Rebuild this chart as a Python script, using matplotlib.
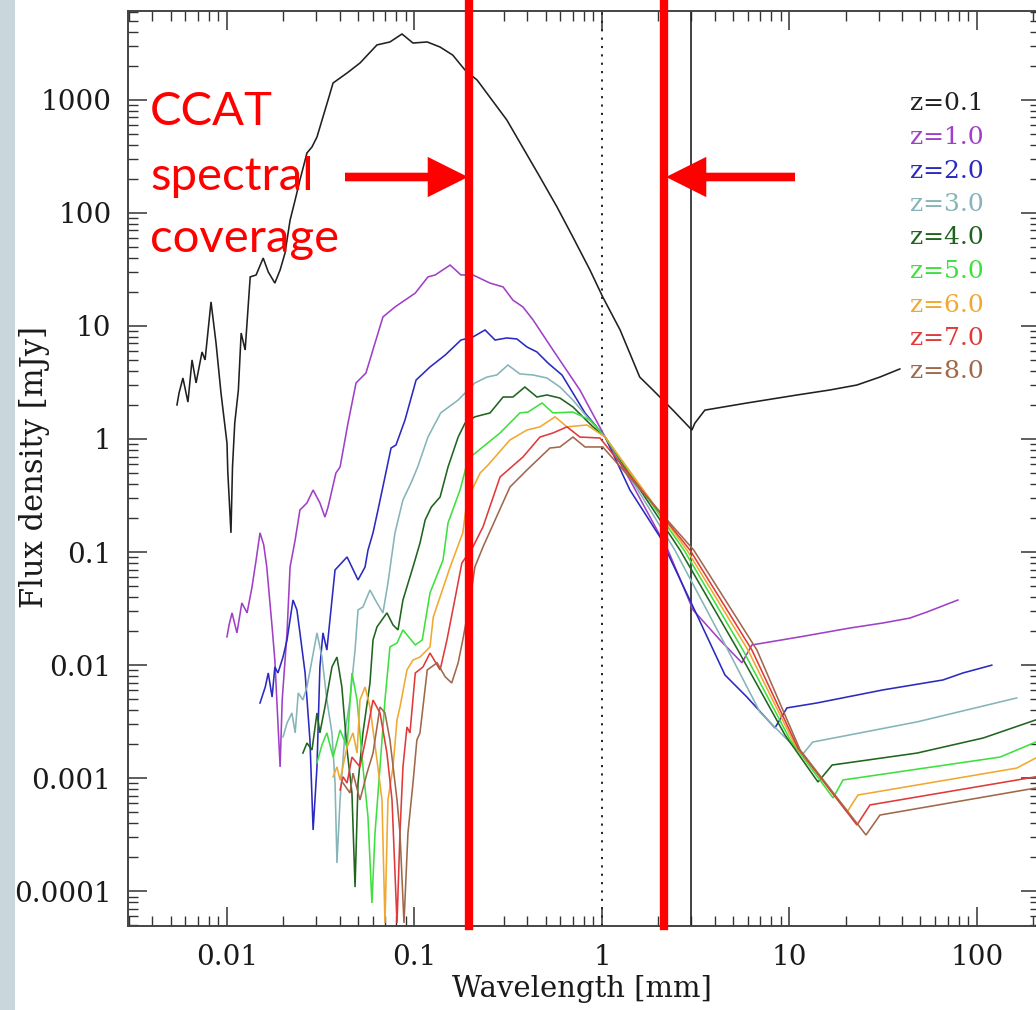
import matplotlib
matplotlib.use("Agg")
import matplotlib.pyplot as plt
from matplotlib.ticker import LogLocator, FixedLocator, FuncFormatter, NullFormatter
from matplotlib.patches import Rectangle

# ---------------- data (wavelength in mm, flux density in mJy) ----------------
wl_z01 = [0.00541, 0.00555, 0.00582, 0.00619, 0.00651, 0.00684, 0.00736, 0.00764, 0.00822, 0.00874,
          0.00929, 0.0100, 0.0101, 0.0105, 0.0107, 0.0110, 0.0115, 0.0119, 0.0125, 0.0133,
          0.0143, 0.0156, 0.0166, 0.0180, 0.0192, 0.0204, 0.0217, 0.0231, 0.0245, 0.0267,
          0.0284, 0.0302, 0.0325, 0.0346, 0.0368, 0.0437, 0.0512, 0.0631, 0.0740, 0.0858,
          0.0982, 0.117, 0.137, 0.160, 0.186, 0.216, 0.311, 0.467, 0.575, 0.700,
          0.863, 1.01, 1.25, 1.59, 1.87, 2.39, 3.02, 3.13, 3.54, 5.93,
          11.0, 16.4, 22.9, 30.4, 38.8]
fx_z01 = [2.0, 2.55, 3.46, 2.12, 5.0, 3.13, 5.88, 5.0, 16.3, 7.06,
          2.55, 0.92, 0.51, 0.148, 0.565, 1.38, 2.71, 8.65, 6.12, 27.1,
          28.2, 39.8, 30.0, 23.9, 31.2, 44.1, 86, 130, 195, 338,
          382, 468, 703, 994, 1405, 1722, 2110, 3050, 3240, 3810,
          3170, 3240, 2920, 2480, 1830, 1490, 661, 207, 113, 61,
          31.2, 18.0, 9.2, 3.53, 2.71, 1.80, 1.20, 1.38, 1.80, 2.08,
          2.45, 2.71, 3.00, 3.53, 4.16]

wl_z1 = [0.0100, 0.01026, 0.01064, 0.0113, 0.0120, 0.0128, 0.0136, 0.0143, 0.0150, 0.0157,
         0.0163, 0.0174, 0.0180, 0.0192, 0.0197, 0.0209, 0.0217, 0.0231, 0.0245, 0.0254,
         0.0267, 0.0288, 0.0313, 0.0333, 0.0346, 0.0381, 0.0401, 0.0442, 0.0488, 0.0551,
         0.0616, 0.0679, 0.0787, 0.101, 0.118, 0.129, 0.155, 0.177, 0.205, 0.253,
         0.297, 0.335, 0.379, 0.429, 0.548, 0.763, 1.04, 1.41, 2.25, 3.06,
         4.26, 5.58, 6.31, 11.4, 21.0, 31.5, 43.9, 54.1, 79.2]
fx_z1 = [0.0178, 0.0227, 0.0290, 0.0193, 0.0355, 0.0290, 0.0491, 0.0851, 0.148, 0.116,
         0.0738, 0.0218, 0.0111, 0.00126, 0.00492, 0.0193, 0.0738, 0.128, 0.236, 0.250,
         0.272, 0.354, 0.272, 0.204, 0.250, 0.500, 0.565, 1.38, 3.13, 3.83,
         7.06, 12.0, 14.7, 19.5, 27.1, 28.2, 34.5, 28.2, 28.2, 23.9,
         22.1, 16.9, 14.7, 11.3, 6.12, 2.71, 1.04, 0.434, 0.104, 0.0308,
         0.0167, 0.0105, 0.0151, 0.0178, 0.0213, 0.0236, 0.0261, 0.0295, 0.0377]

wl_z2 = [0.0150, 0.0160, 0.0166, 0.0174, 0.0180, 0.0187, 0.0199, 0.0209, 0.0225, 0.0236,
         0.0245, 0.0261, 0.0277, 0.0288, 0.0302, 0.0313, 0.0325, 0.0341, 0.0363, 0.0377,
         0.0437, 0.0500, 0.0545, 0.0565, 0.0601, 0.0639, 0.0696, 0.0750, 0.0797, 0.0890,
         0.102, 0.121, 0.146, 0.177, 0.205, 0.238, 0.269, 0.311, 0.352, 0.398,
         0.450, 0.515, 0.612, 0.700, 0.812, 1.04, 1.41, 2.04, 3.21, 4.53,
         5.93, 8.37, 9.70, 14.0, 31.5, 65.9, 84.2, 120]
fx_z2 = [0.00463, 0.00641, 0.00853, 0.00523, 0.00964, 0.00853, 0.0118, 0.0167, 0.0377, 0.0308,
         0.0193, 0.00853, 0.00218, 0.000349, 0.00126, 0.00964, 0.0193, 0.0136, 0.0377, 0.0695,
         0.0905, 0.0567, 0.0738, 0.104, 0.148, 0.236, 0.461, 0.832, 0.885, 1.47,
         3.32, 4.33, 5.53, 7.50, 7.98, 9.20, 7.50, 7.82, 7.66, 6.51,
         5.88, 4.70, 3.68, 2.55, 1.70, 1.04, 0.354, 0.136, 0.0278, 0.00819,
         0.00523, 0.00279, 0.00419, 0.00463, 0.00604, 0.00740, 0.00853, 0.0100]

wl_z3 = [0.0199, 0.0209, 0.0222, 0.0231, 0.0240, 0.0254, 0.0267, 0.0284, 0.0302, 0.0321,
         0.0341, 0.0363, 0.0377, 0.0386, 0.0401, 0.0426, 0.0453, 0.0482, 0.0500, 0.0531,
         0.0579, 0.0631, 0.0679, 0.0722, 0.0787, 0.0868, 0.0958, 0.104, 0.118, 0.138,
         0.171, 0.210, 0.244, 0.275, 0.315, 0.365, 0.429, 0.509, 0.597, 0.700,
         0.832, 1.04, 2.45, 4.70, 6.96, 11.7, 13.3, 47.9, 88.4, 163]
fx_z3 = [0.00232, 0.00308, 0.00378, 0.00252, 0.00568, 0.00492, 0.00641, 0.0111, 0.0193, 0.0118,
         0.00492, 0.00252, 0.000908, 0.000178, 0.000643, 0.00252, 0.00492, 0.0136, 0.0308, 0.0327,
         0.0462, 0.0355, 0.0290, 0.0533, 0.148, 0.289, 0.408, 0.565, 1.04, 1.70,
         2.21, 3.13, 3.53, 3.68, 4.51, 3.76, 3.68, 3.46, 2.88, 2.21,
         1.57, 1.04, 0.104, 0.0136, 0.00385, 0.00161, 0.00209, 0.00315, 0.00402, 0.00513]

wl_z4 = [0.0254, 0.0267, 0.0284, 0.0302, 0.0313, 0.0333, 0.0363, 0.0386, 0.0410, 0.0437,
         0.0464, 0.0482, 0.0500, 0.0531, 0.0579, 0.0601, 0.0631, 0.0713, 0.0768, 0.0817,
         0.0868, 0.0982, 0.107, 0.114, 0.123, 0.137, 0.151, 0.171, 0.186, 0.210,
         0.253, 0.297, 0.335, 0.388, 0.450, 0.509, 0.597, 0.700, 0.895, 1.04,
         2.61, 5.31, 9.46, 14.2, 16.9, 47.9, 108, 206]
fx_z4 = [0.00167, 0.00205, 0.00178, 0.00378, 0.00252, 0.00427, 0.00964, 0.0118, 0.00641, 0.00178,
         0.000741, 0.000109, 0.000908, 0.00252, 0.00696, 0.0167, 0.0218, 0.0290, 0.0227, 0.0205,
         0.0377, 0.0738, 0.120, 0.192, 0.250, 0.307, 0.565, 1.04, 1.38, 1.57,
         1.70, 2.35, 2.35, 2.88, 2.35, 2.45, 2.30, 1.92, 1.28, 1.04,
         0.104, 0.0136, 0.00242, 0.000927, 0.00131, 0.00167, 0.00227, 0.00328]

wl_z5 = [0.0302, 0.0321, 0.0341, 0.0368, 0.0401, 0.0437, 0.0464, 0.0494, 0.0531, 0.0565,
         0.0593, 0.0616, 0.0655, 0.0696, 0.0740, 0.0807, 0.0868, 0.101, 0.110, 0.121,
         0.142, 0.151, 0.175, 0.191, 0.205, 0.286, 0.365, 0.403, 0.479, 0.548,
         0.700, 0.863, 1.04, 2.74, 5.65, 10.1, 17.1, 19.3, 133, 206]
fx_z5 = [0.00137, 0.00197, 0.00252, 0.00154, 0.00267, 0.00189, 0.00853, 0.00492, 0.00126, 0.000455,
         0.0000789, 0.000328, 0.00126, 0.00492, 0.0145, 0.0157, 0.0205, 0.0151, 0.0167, 0.0435,
         0.0851, 0.181, 0.354, 0.614, 0.722, 1.13, 1.70, 1.73, 2.08, 1.70,
         1.73, 1.47, 1.04, 0.104, 0.0136, 0.00218, 0.000670, 0.000966, 0.00154, 0.00209]

wl_z6 = [0.0368, 0.0386, 0.0401, 0.0437, 0.0470, 0.0494, 0.0512, 0.0545, 0.0579, 0.0631,
         0.0671, 0.0696, 0.0722, 0.0768, 0.0807, 0.0837, 0.0912, 0.0982, 0.107, 0.121,
         0.126, 0.155, 0.181, 0.191, 0.224, 0.247, 0.323, 0.398, 0.467, 0.562,
         0.651, 0.832, 1.04, 2.84, 6.01, 10.7, 20.3, 23.2, 163, 206]
fx_z6 = [0.00103, 0.00126, 0.000966, 0.00189, 0.00252, 0.00167, 0.00492, 0.00641, 0.00427, 0.00145,
         0.000643, 0.0000526, 0.000643, 0.00126, 0.00328, 0.00427, 0.00907, 0.0111, 0.0118, 0.0145,
         0.0267, 0.0738, 0.148, 0.289, 0.500, 0.589, 0.980, 1.20, 1.28, 1.57,
         1.28, 1.33, 1.04, 0.104, 0.0136, 0.00197, 0.000504, 0.000711, 0.00123, 0.00151]

wl_z7 = [0.0401, 0.0416, 0.0437, 0.0464, 0.0512, 0.0558, 0.0601, 0.0655, 0.0713, 0.0759,
         0.0807, 0.0837, 0.0868, 0.0912, 0.0946, 0.101, 0.111, 0.121, 0.137, 0.149,
         0.164, 0.179, 0.205, 0.232, 0.286, 0.379, 0.467, 0.548, 0.651, 0.763,
         0.976, 2.95, 6.31, 11.1, 22.9, 26.9, 206]
fx_z7 = [0.000788, 0.00103, 0.000908, 0.00154, 0.00126, 0.00252, 0.00492, 0.00378, 0.00167, 0.000643,
         0.0000526, 0.000328, 0.00126, 0.00284, 0.00252, 0.00853, 0.00964, 0.0128, 0.00907, 0.0167,
         0.0377, 0.0801, 0.111, 0.167, 0.461, 0.693, 1.04, 1.13, 1.28, 1.04,
         1.02, 0.104, 0.0136, 0.00185, 0.000386, 0.000581, 0.00103]

wl_z8 = [0.0416, 0.0453, 0.0470, 0.0512, 0.0558, 0.0601, 0.0655, 0.0696, 0.0740, 0.0807,
         0.0837, 0.0879, 0.0923, 0.0982, 0.103, 0.107, 0.117, 0.132, 0.146, 0.158,
         0.171, 0.181, 0.198, 0.210, 0.232, 0.323, 0.398, 0.528, 0.597, 0.700,
         0.812, 1.01, 3.09, 6.71, 11.4, 25.6, 30.4, 206]
fx_z8 = [0.000908, 0.000741, 0.00111, 0.000643, 0.00111, 0.00167, 0.00427, 0.00378, 0.00218, 0.000643,
         0.000328, 0.0000526, 0.000328, 0.000908, 0.00218, 0.00252, 0.00907, 0.0105, 0.00787, 0.00696,
         0.0105, 0.0167, 0.0377, 0.0738, 0.111, 0.376, 0.532, 0.832, 0.850, 1.04,
         0.850, 0.850, 0.104, 0.0136, 0.00178, 0.000315, 0.000473, 0.000820]

series_labels = ["z=0.1", "z=1.0", "z=2.0", "z=3.0", "z=4.0", "z=5.0", "z=6.0", "z=7.0", "z=8.0"]
series_colors = ["#202020", "#a040c8", "#2a2ac0", "#86b4b8", "#1f641f",
                 "#3ee03e", "#f0a830", "#e03a3a", "#a0684a"]
series_wl = [wl_z01, wl_z1, wl_z2, wl_z3, wl_z4, wl_z5, wl_z6, wl_z7, wl_z8]
series_fx = [fx_z01, fx_z1, fx_z2, fx_z3, fx_z4, fx_z5, fx_z6, fx_z7, fx_z8]

x_tick_values = [0.01, 0.1, 1, 10, 100]
y_tick_values = [0.0001, 0.001, 0.01, 0.1, 1, 10, 100, 1000]

ccat_band = [0.196, 2.13]      # CCAT spectral coverage (mm)
dotted_line_wl = 1.0
solid_line_wl = 3.0

x_limits = [0.002965, 217.0]
y_limits = [4.94e-5, 6085.0]

# ---------------- figure ----------------
plt.rcParams["font.family"] = ["DejaVu Serif"]
W, H = 1036, 1010
fig = plt.figure(figsize=(W / 100, H / 100), dpi=100)
fig.patch.set_facecolor("white")
ax = fig.add_axes([128 / W, (H - 926) / H, (1040 - 128) / W, 915 / H])
ax.set_xscale("log")
ax.set_yscale("log")
ax.set_xlim(*x_limits)
ax.set_ylim(*y_limits)

for wl, fx, col in zip(series_wl, series_fx, series_colors):
    ax.plot(wl, fx, color=col, lw=1.15, solid_joinstyle="miter", zorder=3)

ax.axvline(dotted_line_wl, color="#222222", lw=1.4, linestyle=(0, (1.1, 3.2)), zorder=2)
ax.axvline(solid_line_wl, color="#222222", lw=1.2, zorder=2)
for xv in ccat_band:
    ax.axvline(xv, ymin=0, ymax=1.013, color="#ff0000", lw=6.0, clip_on=False, zorder=6)

# ticks (only ticks inside the visible range)
fmt = FuncFormatter(lambda v, p: "%g" % v)
ax.xaxis.set_major_locator(FixedLocator(x_tick_values))
ax.yaxis.set_major_locator(FixedLocator(y_tick_values))
for axis in (ax.xaxis, ax.yaxis):
    axis.set_minor_locator(LogLocator(base=10, subs=range(2, 10), numticks=30))
    axis.set_minor_formatter(NullFormatter())
    axis.set_major_formatter(fmt)
ax.tick_params(which="both", direction="in", top=True, right=True, colors="#333333")
ax.tick_params(which="major", length=14, width=1.1, labelsize=20, labelcolor="#1a1a1a")
ax.tick_params(axis="y", which="major", pad=12)
ax.tick_params(axis="x", which="major", pad=13)
ax.tick_params(which="minor", length=7, width=1.0)
for sp in ax.spines.values():
    sp.set_color("#444444")
    sp.set_linewidth(1.4)

# axis labels
fig.text(35 / W, 1 - 467 / H, "Flux density [mJy]", rotation=90, ha="center", va="center",
         fontsize=22, color="#1a1a1a")
fig.text(582 / W, 1 - 989 / H, "Wavelength [mm]", ha="center", va="center",
         fontsize=21, color="#1a1a1a")

# redshift labels
for i, (lab, col) in enumerate(zip(series_labels, series_colors)):
    fig.text(984 / W, 1 - (104 + 33.5 * i) / H, lab, ha="right", va="center",
             fontsize=18, color=col)

# CCAT annotation
for txt, yb in zip(["CCAT", "spectral", "coverage"], [125, 190, 252]):
    fig.text(150 / W, 1 - yb / H, txt, ha="left", va="baseline", fontsize=34,
             color="#ff0000", family=["Lato", "DejaVu Sans"])
arrow_style = "simple,head_length=2.9,head_width=2.9,tail_width=0.62"
ax.annotate("", xy=(468, H - 177), xytext=(345, H - 177), xycoords="figure pixels",
            textcoords="figure pixels",
            arrowprops=dict(arrowstyle=arrow_style, color="#ff0000", lw=0,
                            shrinkA=0, shrinkB=0, mutation_scale=10), zorder=7)
ax.annotate("", xy=(666, H - 177), xytext=(795, H - 177), xycoords="figure pixels",
            textcoords="figure pixels",
            arrowprops=dict(arrowstyle=arrow_style, color="#ff0000", lw=0,
                            shrinkA=0, shrinkB=0, mutation_scale=10), zorder=7)

# slide background strip on the far left
fig.add_artist(Rectangle((0, 0), 15 / W, 1, transform=fig.transFigure,
                         facecolor="#c9d6dc", edgecolor="none", zorder=20))

fig.savefig("out.png", dpi=100)
